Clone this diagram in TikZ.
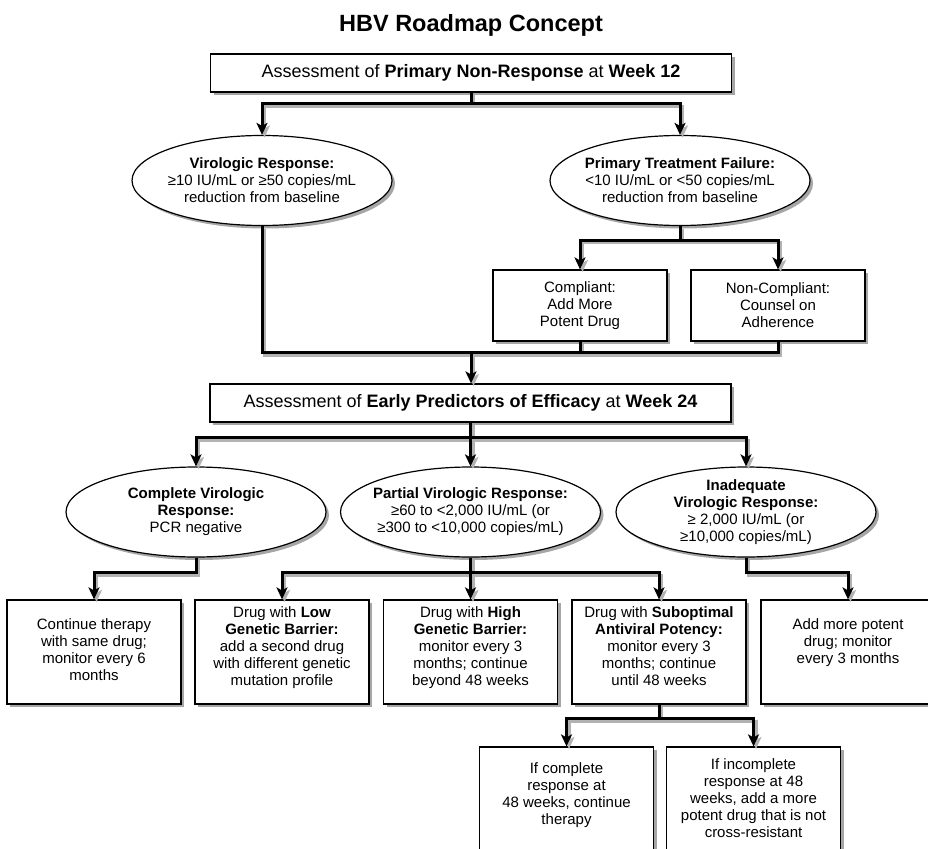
\documentclass[tikz,border=0pt]{standalone}
\usepackage{fontspec}
\setmainfont{Liberation Sans}
\usetikzlibrary{shapes.geometric,shadows,arrows.meta}

\begin{document}
\begin{tikzpicture}[x=1pt,y=-1pt,
	>={Stealth[length=12pt,width=11pt,inset=3pt]},
	txt/.style={align=center,inner sep=0pt,font=\fontsize{15}{17}\selectfont},
	frame/.style={draw,line width=1.2pt,fill=white,inner sep=0pt,
		drop shadow={shadow xshift=3pt,shadow yshift=-3pt,fill=black!35,opacity=1}},
	head/.style={frame,minimum width=521pt,minimum height=38pt,font=\fontsize{18}{20}\selectfont},
	box/.style={frame,minimum width=174pt,minimum height=104pt},
	oval/.style={frame,ellipse,minimum width=260pt,minimum height=90pt},
	wire/.style={draw=black,line width=3pt},
	wshadow/.style={draw=black!30,line width=3pt,transform canvas={shift={(2.5pt,-2.5pt)}}}]

	\useasboundingbox (0,0) rectangle (928,848);

	\node[font=\bfseries\fontsize{23.5}{26}\selectfont,anchor=base] (title) at (471,32) {HBV Roadmap Concept};

	% week 12
	\node[head] (a1) at (471,73) {Assessment of \textbf{Primary Non-Response} at \textbf{Week 12}};

	\node[oval] (v1) at (262,180.5) {};
	\node[txt] (v1t) at (v1) {\textbf{Virologic Response:}\\ ≥10 IU/mL or ≥50 copies/mL\\ reduction from baseline};
	\node[oval] (v2) at (680,180.5) {};
	\node[txt] (v2t) at (v2) {\textbf{Primary Treatment Failure:}\\ <10 IU/mL or <50 copies/mL\\ reduction from baseline};

	\node[box,txt,minimum height=71pt] (c1) at (580,305.5) {Compliant:\\ Add More\\ Potent Drug};
	\node[box,txt,minimum height=71pt] (c2) at (778,305.5) {Non-Compliant:\\ Counsel on\\ Adherence};
	\coordinate (j1) at (471,352.5);

	% week 24
	\node[head] (a2) at (470.5,403) {Assessment of \textbf{Early Predictors of Efficacy} at \textbf{Week 24}};

	\node[oval] (e1) at (196,512) {};
	\node[txt] (e1t) at (e1) {\textbf{Complete Virologic}\\ \textbf{Response:}\\ PCR negative};
	\node[oval] (e2) at (470.5,512) {};
	\node[txt] (e2t) at (e2) {\textbf{Partial Virologic Response:}\\ ≥60 to <2,000 IU/mL (or\\ ≥300 to <10,000 copies/mL)};
	\node[oval] (e3) at (746,512) {};
	\node[txt] (e3t) at (e3) {\textbf{Inadequate}\\ \textbf{Virologic Response:}\\ ≥ 2,000 IU/mL (or\\ ≥10,000 copies/mL)};

	\node[box] (b1) at (94,652) {};
	\node[box] (b2) at (282,652) {};
	\node[box] (b3) at (470.5,652) {};
	\node[box] (b4) at (659,652) {};
	\node[box] (b5) at (848,652) {};
	\node[txt,anchor=north] (b1t) at (94,618) {Continue therapy\\ with same drug;\\ monitor every 6\\ months};
	\node[txt,anchor=north] (b2t) at (282,606) {Drug with \textbf{Low}\\ \textbf{Genetic Barrier:}\\ add a second drug\\ with different genetic\\ mutation profile};
	\node[txt,anchor=north] (b3t) at (470.5,606) {Drug with \textbf{High}\\ \textbf{Genetic Barrier:}\\ monitor every 3\\ months; continue\\ beyond 48 weeks};
	\node[txt,anchor=north] (b4t) at (659,606) {Drug with \textbf{Suboptimal}\\ \textbf{Antiviral Potency:}\\ monitor every 3\\ months; continue\\ until 48 weeks};
	\node[txt,anchor=north] (b5t) at (848,618) {Add more potent\\ drug; monitor\\ every 3 months};

	\node[box,minimum height=110pt] (f1) at (566.5,802) {};
	\node[box,minimum height=110pt] (f2) at (753.5,802) {};
	\node[txt,anchor=north] (f1t) at (566.5,762) {If complete\\ response at\\ 48 weeks, continue\\ therapy};
	\node[txt,anchor=north] (f2t) at (753.5,758) {If incomplete\\ response at 48\\ weeks, add a more\\ potent drug that is not\\ cross-resistant};

	% connectors, shadow first
	\foreach \s in {wshadow,wire} {
		\draw[\s,->] (a1.south) -- ++(0,11) -| (v1.north);
		\draw[\s,->] (a1.south) -- ++(0,11) -| (v2.north);
		\draw[\s,->] (v2.south) -- ++(0,14) -| (c1.north);
		\draw[\s,->] (v2.south) -- ++(0,14) -| (c2.north);
		\draw[\s] (v1.south) |- (j1);
		\draw[\s] (c1.south) |- (j1);
		\draw[\s] (c2.south) |- (j1);
		\draw[\s,->] (j1) -- (j1 |- a2.north);

		\draw[\s,->] (a2.south) -- ++(0,15) -| (e1.north);
		\draw[\s,->] (a2.south) -- (e2.north);
		\draw[\s,->] (a2.south) -- ++(0,15) -| (e3.north);

		\draw[\s,->] (e1.south) -- ++(0,15) -| (b1.north);
		\draw[\s,->] (e2.south) -- ++(0,15) -| (b2.north);
		\draw[\s,->] (e2.south) -- (b3.north);
		\draw[\s,->] (e2.south) -- ++(0,15) -| (b4.north);
		\draw[\s,->] (e3.south) -- ++(0,15) -| (b5.north);

		\foreach \t in {f1,f2}
			\draw[\s,->] (b4.south) -- ++(0,14) -| (\t.north);
	}

\end{tikzpicture}
\end{document}
